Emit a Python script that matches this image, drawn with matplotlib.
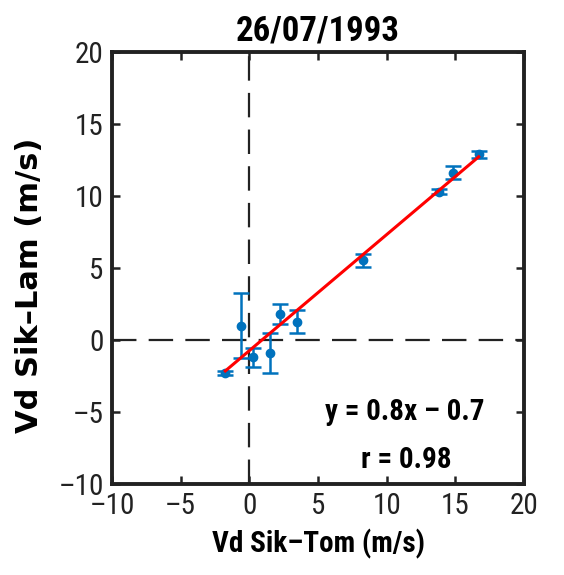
import numpy as np
import matplotlib
matplotlib.use("Agg")
import matplotlib.pyplot as plt
from matplotlib import font_manager

# values
vd_sik_tom = [-1.75, -0.6, 0.3, 1.5, 2.26, 3.5, 8.3, 13.8, 14.8, 16.7]
vd_sik_lam = [-2.3, 1.0, -1.2, -0.9, 1.8, 1.25, 5.55, 10.3, 11.6, 12.9]
lam_err = [0.15, 2.25, 0.65, 1.4, 0.7, 0.8, 0.45, 0.15, 0.45, 0.25]
ticks = [-10, -5, 0, 5, 10, 15, 20]
title = "26/07/1993"
fit_txt = "y = 0.8x \u2013 0.7"
r_txt = "r = 0.98"

names = {f.name for f in font_manager.fontManager.ttflist}
narrow = [n for n in ["Liberation Sans Narrow", "DejaVu Sans Condensed", "Roboto Condensed",
                      "Roboto"] if n in names] + ["DejaVu Sans"]
blue = "#0072BD"

fig = plt.figure(figsize=(5.64, 5.75), dpi=100)
ax = fig.add_axes([0.1986, 0.1583, 0.7305, 0.7513])

ax.axhline(0, color="#222222", lw=1.6, ls=(0, (11, 5.5)), zorder=1)
ax.axvline(0, color="#222222", lw=1.6, ls=(0, (11, 5.5)), zorder=1)

ax.errorbar(vd_sik_tom, vd_sik_lam, yerr=lam_err, fmt="o", color=blue,
            ms=6, lw=1.8, capsize=6, capthick=1.8, zorder=3)

# least squares fit over the data range
p = np.polyfit(vd_sik_tom, vd_sik_lam, 1)
xs = np.array([min(vd_sik_tom), max(vd_sik_tom)])
ax.plot(xs, np.polyval(p, xs), color="red", lw=2.2, zorder=4)

ax.text(0.71, 0.167, fit_txt, transform=ax.transAxes, ha="center", va="center",
        fontsize=21, fontweight="bold", family=narrow, fontstretch="condensed")
ax.text(0.715, 0.055, r_txt, transform=ax.transAxes, ha="center", va="center",
        fontsize=21, fontweight="bold", family=narrow, fontstretch="condensed")

ax.set_xlim(-10, 20)
ax.set_ylim(-10, 20)
ax.set_xticks(ticks)
ax.set_yticks(ticks)
ax.set_xticklabels([str(t).replace("-", "\u2013") for t in ticks], family=narrow,
                   fontsize=21, fontstretch="condensed")
ax.set_yticklabels([str(t).replace("-", "\u2013") for t in ticks], family=narrow,
                   fontsize=21, fontstretch="condensed")
ax.tick_params(direction="in", length=6, width=1.8, top=True, right=True, pad=6, colors="#222222")
for s in ax.spines.values():
    s.set_linewidth(2.8)
    s.set_color("#222222")

ax.set_xlabel("Vd Sik\u2013Tom (m/s)", family=narrow, fontsize=21, fontweight="bold",
              fontstretch="condensed", labelpad=6)
ax.set_ylabel("Vd Sik\u2013Lam (m/s)", family=["DejaVu Sans"], fontsize=22,
              fontweight="bold")
ax.yaxis.set_label_coords(-0.165, 0.46)
ax.set_title(title, family=narrow, fontsize=25, fontweight="bold", fontstretch="condensed", pad=8)

fig.savefig("out.png", dpi=100)
